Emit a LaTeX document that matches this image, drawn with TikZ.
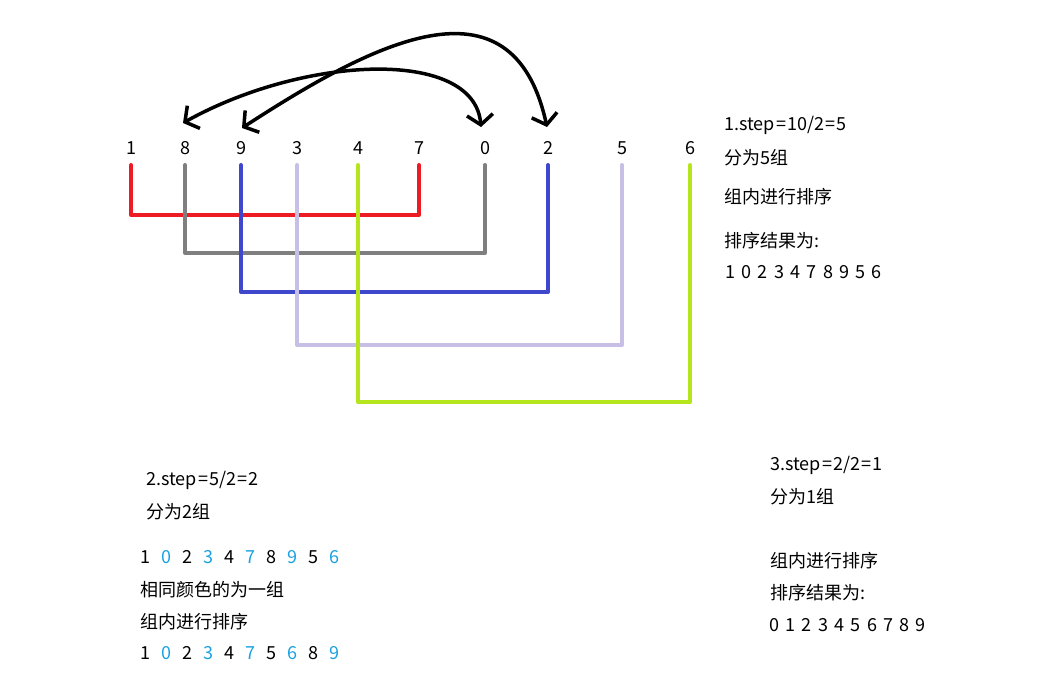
\documentclass[tikz,border=0pt]{standalone}
\usepackage{fontspec}
\setmainfont{Noto Sans CJK SC}
\usetikzlibrary{arrows.meta}
\definecolor{cred}{HTML}{ED1C24}
\definecolor{cgray}{HTML}{7F7F7F}
\definecolor{cblue}{HTML}{3F48CC}
\definecolor{clav}{HTML}{C8BFE7}
\definecolor{cgreen}{HTML}{B5E61D}
\definecolor{lblue}{HTML}{1BA1E2}
\newcommand{\dg}[2]{\makebox[21pt][l]{\textcolor{#1}{#2}}}
\newcommand{\dd}[1]{\makebox[16.3pt][l]{#1}}
\newcommand{\eqs}{\hspace{1.2pt}=\hspace{1.2pt}}
\begin{document}
\begin{tikzpicture}[x=1pt,y=-1pt,
  grp/.style={line width=4pt, line cap=round, line join=round},
  num/.style={font=\fontsize{18}{21}\selectfont, inner sep=0pt},
  txt/.style={font=\fontsize{18}{21}\selectfont, anchor=west, inner sep=0pt},
  arr/.style={line width=3.5pt, line cap=round, {Straight Barb[length=10pt,width=26pt]}-{Straight Barb[length=10pt,width=26pt]}}]
\useasboundingbox (0,0) rectangle (1053,684);
% numbers
\node[num] (n1) at (131,148) {1};
\node[num] (n2) at (185,148) {8};
\node[num] (n3) at (241,148) {9};
\node[num] (n4) at (297,148) {3};
\node[num] (n5) at (358,148) {4};
\node[num] (n6) at (419,148) {7};
\node[num] (n7) at (485,148) {0};
\node[num] (n8) at (548,148) {2};
\node[num] (n9) at (622,148) {5};
\node[num] (n10) at (690,148) {6};
% level coordinates
\coordinate (top) at (0,165);
\coordinate (lr) at (0,215);
\coordinate (lg) at (0,253);
\coordinate (lb) at (0,292);
\coordinate (ll) at (0,345);
\coordinate (lgr) at (0,402);
% group lines
\draw[grp,cred]   (n1 |- top) -- (n1 |- lr) -- (n6 |- lr) -- (n6 |- top);
\draw[grp,cgray]  (n2 |- top) -- (n2 |- lg) -- (n7 |- lg) -- (n7 |- top);
\draw[grp,cblue]  (n3 |- top) -- (n3 |- lb) -- (n8 |- lb) -- (n8 |- top);
\draw[grp,clav]   (n4 |- top) -- (n4 |- ll) -- (n9 |- ll) -- (n9 |- top);
\draw[grp,cgreen] (n5 |- top) -- (n5 |- lgr) -- (n10 |- lgr) -- (n10 |- top);
% arrows
\coordinate (t8) at (183,123);
\coordinate (t0) at (481,127);
\coordinate (t9) at (242,128);
\coordinate (t2) at (547,127);
\draw[arr] (t8) .. controls (305,55) and (474,48) .. (t0);
\draw[arr] (t9) .. controls (370,45) and (512,-32) .. (t2);
% right block
\node[txt] (r1) at (724,125) {1.step\eqs10/2\eqs5};
\node[txt] (r2) at (724,158) {分为5组};
\node[txt] (r3) at (724,197) {组内进行排序};
\node[txt] (r4) at (724,241) {排序结果为:};
\node[txt] (r5) at (725,272) {\dd{1}\dd{0}\dd{2}\dd{3}\dd{4}\dd{7}\dd{8}\dd{9}\dd{5}\dd{6}};
% bottom left
\node[txt] (b1) at (146,480) {2.step\eqs5/2\eqs2};
\node[txt] (b2) at (146,512) {分为2组};
\node[txt] (b3) at (140,557) {\dg{black}{1}\dg{lblue}{0}\dg{black}{2}\dg{lblue}{3}\dg{black}{4}\dg{lblue}{7}\dg{black}{8}\dg{lblue}{9}\dg{black}{5}\dg{lblue}{6}};
\node[txt] (b4) at (140,590) {相同颜色的为一组};
\node[txt] (b5) at (140,622) {组内进行排序};
\node[txt] (b6) at (140,653) {\dg{black}{1}\dg{lblue}{0}\dg{black}{2}\dg{lblue}{3}\dg{black}{4}\dg{lblue}{7}\dg{black}{5}\dg{lblue}{6}\dg{black}{8}\dg{lblue}{9}};
% bottom right
\node[txt] (c1) at (770,465) {3.step\eqs2/2\eqs1};
\node[txt] (c2) at (770,497) {分为1组};
\node[txt] (c3) at (770,561) {组内进行排序};
\node[txt] (c4) at (770,593) {排序结果为:};
\node[txt] (c5) at (769,625) {\dd{0}\dd{1}\dd{2}\dd{3}\dd{4}\dd{5}\dd{6}\dd{7}\dd{8}\dd{9}};
\end{tikzpicture}
\end{document}
